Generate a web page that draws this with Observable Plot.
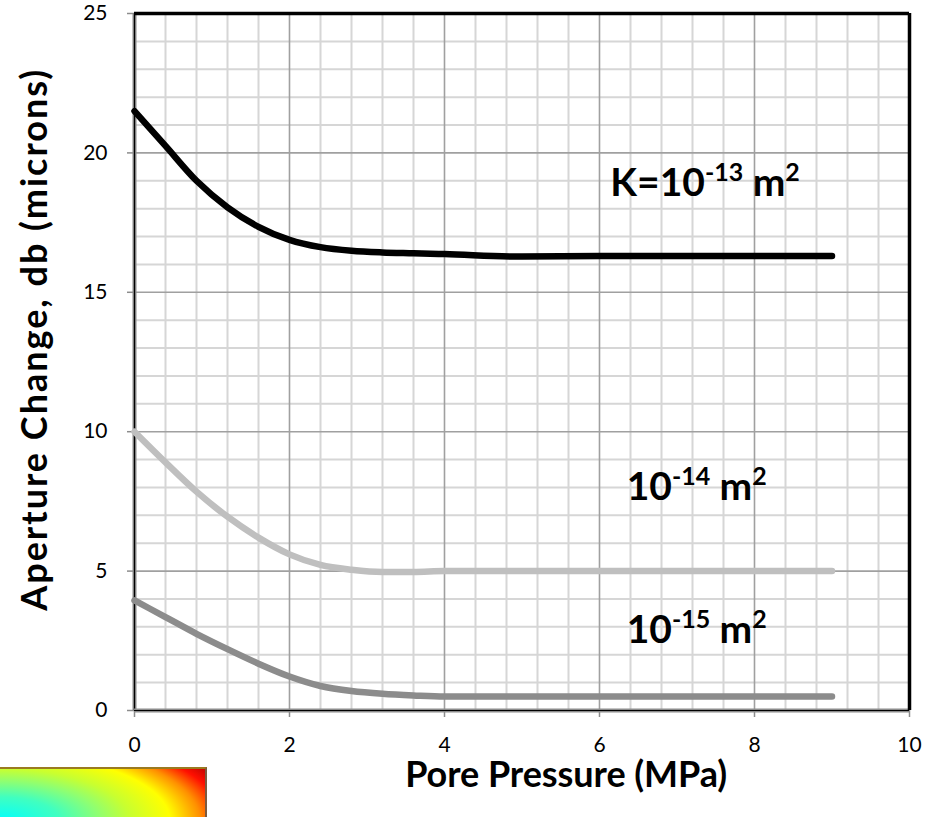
<!DOCTYPE html>
<html>
<head>
<meta charset="utf-8">
<script src="https://cdn.jsdelivr.net/npm/d3@7"></script>
<script src="https://cdn.jsdelivr.net/npm/@observablehq/plot@0.6"></script>
<style>
  html, body { margin: 0; padding: 0; background: #fff; overflow: hidden; }
  #wrap { position: relative; width: 931px; height: 817px; }
  #swatch {
    position: absolute; left: 0; top: 767px; width: 205px; height: 52px;
    border-top: 2px solid #9a7a20; border-right: 2px solid #7a5a40;
    background: radial-gradient(ellipse 200px 80px at 0% 100%,
      #00ffff 0%, #40ffc0 30%, #90ff70 50%, #c8ff30 65%, #ffff00 85%,
      #ff9000 100%, #ff1000 112%, #b00000 125%);
  }
</style>
</head>
<body>
<div id="wrap"><div id="chart"></div><div id="swatch"></div></div>
<script>
// ---- data ----
const pressure = [0, 0.4, 0.8, 1.2, 1.6, 2, 2.4, 2.8, 3.2, 3.6, 4, 5, 6, 7, 8, 9];
const k13 = [21.5, 20.25, 19.0, 18.05, 17.35, 16.88, 16.62, 16.49, 16.43, 16.4, 16.37, 16.28, 16.3, 16.3, 16.3, 16.3];
const k14 = [10.0, 8.9, 7.85, 6.95, 6.2, 5.6, 5.22, 5.05, 4.97, 4.97, 5.0, 5.0, 5.0, 5.0, 5.0, 5.0];
const k15 = [3.95, 3.35, 2.75, 2.2, 1.68, 1.22, 0.88, 0.7, 0.6, 0.54, 0.5, 0.5, 0.5, 0.5, 0.5, 0.5];
const seriesNames = ["1e-13", "1e-14", "1e-15"];
const seriesColors = ["#000000", "#bfbfbf", "#8c8c8c"];
const xTicks = [0, 2, 4, 6, 8, 10];
const yTicks = [0, 5, 10, 15, 20, 25];
const xMinor = [0.4, 0.8, 1.2, 1.6, 2.4, 2.8, 3.2, 3.6, 4.4, 4.8, 5.2, 5.6, 6.4, 6.8, 7.2, 7.6, 8.4, 8.8, 9.2, 9.6];
const yMinor = [1, 2, 3, 4, 6, 7, 8, 9, 11, 12, 13, 14, 16, 17, 18, 19, 21, 22, 23, 24];
const annotText = ["K=10^{-13} m^{2}", "10^{-14} m^{2}", "10^{-15} m^{2}"];
const annotX = [6.14, 6.35, 6.35];
const annotY = [18.9, 8.0, 2.87];
const xTitle = "Pore Pressure (MPa)";
const yTitle = "Aperture Change, db (microns)";

const rows = [];
[k13, k14, k15].forEach((arr, s) => arr.forEach((v, i) => rows.push({p: pressure[i], v, s: seriesNames[s]})));
const annots = annotText.map((t, i) => ({t, x: annotX[i], y: annotY[i]}));
const annotSize = 39;

const chart = Plot.plot({
  width: 931, height: 817,
  marginLeft: 134, marginRight: 22, marginTop: 13, marginBottom: 107,
  style: {fontFamily: "Lato, sans-serif", fontSize: "21px", color: "#000", background: "#fff"},
  x: {domain: [0, 10], ticks: xTicks, label: null},
  y: {domain: [0, 25], ticks: yTicks, label: null},
  color: {domain: seriesNames, range: seriesColors},
  marks: [
    Plot.ruleX(xMinor, {stroke: "#d6d6d6", strokeWidth: 2}),
    Plot.ruleY(yMinor, {stroke: "#d6d6d6", strokeWidth: 2}),
    Plot.ruleX(xTicks.slice(1, -1), {stroke: "#a0a0a0", strokeWidth: 1.6}),
    Plot.ruleY(yTicks.slice(1, -1), {stroke: "#a0a0a0", strokeWidth: 1.6}),
    Plot.axisX({ticks: xTicks, tickSize: 7, tickPadding: 20, stroke: "#8c8c8c", strokeWidth: 1.5, fontSize: 21, label: null, tickFormat: d => String(d)}),
    Plot.axisY({ticks: yTicks, tickSize: 7, tickPadding: 20, stroke: "#8c8c8c", strokeWidth: 1.5, fontSize: 21, label: null, tickFormat: d => String(d)}),
    Plot.ruleX([0], {stroke: "#8c8c8c", strokeWidth: 4}),
    Plot.ruleX([0], {stroke: "#000", strokeWidth: 1.2}),
    Plot.ruleY([0], {stroke: "#8c8c8c", strokeWidth: 4}),
    Plot.ruleY([0], {stroke: "#000", strokeWidth: 1.2}),
    Plot.ruleY([25], {stroke: "#000", strokeWidth: 3.5}),
    Plot.ruleX([10], {stroke: "#000", strokeWidth: 3.5}),
    Plot.line(rows, {x: "p", y: "v", z: "s", stroke: "s", strokeWidth: 6.5, curve: "monotone-x", strokeLinecap: "round"}),
    Plot.text(annots, {x: "x", y: "y", text: "t", textAnchor: "start", lineAnchor: "middle", fontSize: annotSize, fontWeight: "bold", fill: "#000", className: "annot"}),
    Plot.text([xTitle], {frameAnchor: "bottom", x: () => 5.57, dy: 76, textAnchor: "middle", fontSize: 36, fontWeight: "bold", fill: "#000", lineAnchor: "bottom", className: "xtitle"}),
    Plot.text([yTitle], {frameAnchor: "left", dx: -99, y: () => 13.28, rotate: -90, textAnchor: "middle", fontSize: 36, fontWeight: "bold", fill: "#000", lineAnchor: "middle", className: "ytitle"})
  ]
});

// stretch the axis titles to the reference's text lengths (spacing only)
d3.select(chart).select("g.ytitle text").attr("textLength", 541).attr("lengthAdjust", "spacing");
d3.select(chart).select("g.xtitle text").attr("textLength", 322).attr("lengthAdjust", "spacing");

// superscripts: "a^{b}" -> raised smaller tspan
const raise = Math.round(annotSize * 0.38);
d3.select(chart).selectAll("g.annot text").each(function() {
  const el = d3.select(this);
  const src = el.text();
  el.text(null);
  const re = /\^\{([^}]*)\}/g;
  let last = 0, m, pending = 0;
  const add = (str, sup) => {
    const t = el.append("tspan").text(str);
    let dy = pending;
    if (sup) { t.attr("font-size", "0.64em"); dy -= raise; pending = raise; } else pending = 0;
    if (dy) t.attr("dy", dy);
  };
  while ((m = re.exec(src))) {
    if (m.index > last) add(src.slice(last, m.index), false);
    add(m[1], true);
    last = re.lastIndex;
  }
  if (last < src.length) add(src.slice(last), false);
});

document.getElementById("chart").appendChild(chart);
</script>
</body>
</html>
